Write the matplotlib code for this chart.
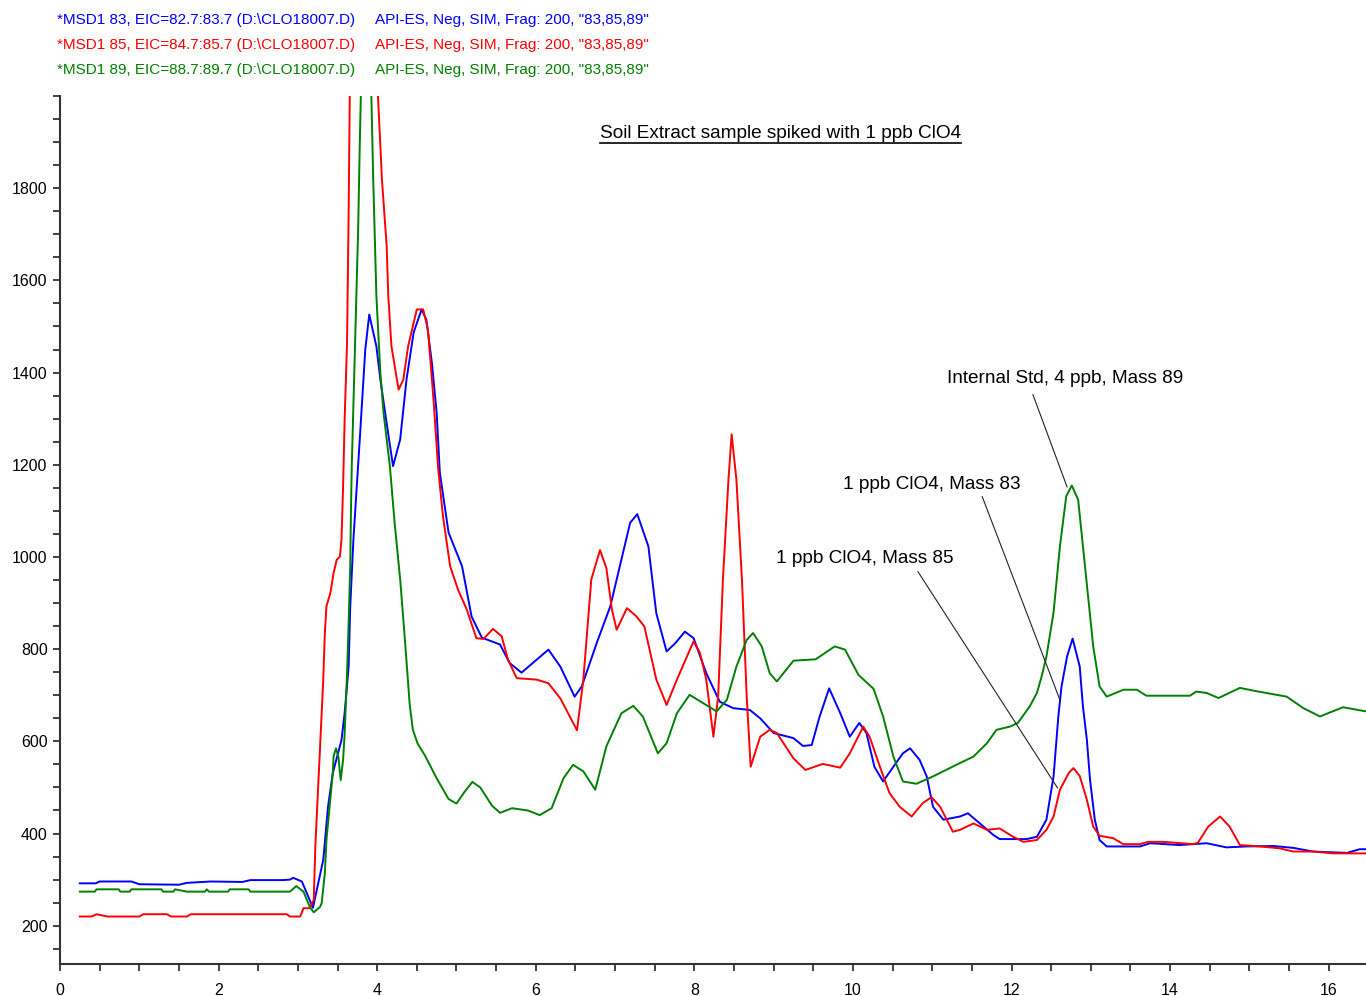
import matplotlib
matplotlib.use("Agg")
import matplotlib.pyplot as plt
from matplotlib.lines import Line2D
from matplotlib.transforms import IdentityTransform
import numpy as np

plt.rcParams['font.family'] = ['Liberation Sans', 'DejaVu Sans']

# Extracted ion chromatograms (retention time in min, abundance)
t_83 = [0.25, 0.45, 0.5, 0.9, 1.0, 1.5, 1.6, 1.9, 2.3, 2.4, 2.8, 2.9, 2.94, 3.05,
        3.19, 3.32, 3.38, 3.44, 3.55, 3.59, 3.64, 3.66, 3.70, 3.74, 3.78, 3.85,
        3.90, 3.99, 4.04, 4.10, 4.20, 4.29, 4.37, 4.46, 4.56, 4.62, 4.69, 4.75,
        4.79, 4.90, 5.07, 5.19, 5.32, 5.55, 5.67, 5.82, 6.01, 6.16, 6.31, 6.49,
        6.58, 6.77, 6.94, 7.06, 7.19, 7.28, 7.42, 7.52, 7.65, 7.76, 7.88, 7.99,
        8.15, 8.32, 8.49, 8.70, 8.83, 9.00, 9.25, 9.37, 9.48, 9.58, 9.70, 9.84,
        9.96, 10.08, 10.17, 10.27, 10.38, 10.51, 10.63, 10.72, 10.84, 10.93,
        11.01, 11.14, 11.35, 11.45, 11.60, 11.77, 11.85, 12.19, 12.32, 12.44,
        12.53, 12.59, 12.63, 12.70, 12.77, 12.86, 12.90, 12.95, 12.99, 13.05,
        13.11, 13.20, 13.62, 13.75, 14.12, 14.46, 14.71, 14.96, 15.30, 15.55,
        15.80, 16.23, 16.39, 16.47]
i_83 = [292, 292, 296, 296, 290, 289, 293, 296, 295, 299, 299, 300, 304, 296,
        239, 343, 458, 531, 603, 662, 762, 892, 1037, 1146, 1254, 1450,
        1526, 1457, 1385, 1313, 1197, 1255, 1385, 1487, 1537, 1515, 1421, 1313,
        1183, 1053, 980, 871, 825, 810, 770, 749, 777, 799, 762, 697,
        719, 814, 893, 980, 1074, 1093, 1023, 878, 795, 813, 838, 824,
        748, 686, 672, 668, 650, 618, 607, 590, 592, 654, 715, 661,
        610, 640, 618, 545, 513, 545, 574, 585, 560, 524,
        458, 430, 437, 444, 422, 397, 388, 388, 393, 430,
        524, 654, 719, 784, 823, 762, 676, 603, 516, 430,
        386, 372, 372, 379, 375, 379, 370, 372, 373, 369,
        361, 358, 366, 366]

t_85 = [0.25, 0.40, 0.46, 0.60, 1.0, 1.05, 1.35, 1.40, 1.60, 1.65, 2.86, 2.90,
        3.03, 3.07, 3.15, 3.20, 3.22, 3.24, 3.26, 3.28, 3.30, 3.32, 3.34, 3.36,
        3.41, 3.45, 3.49, 3.53, 3.55, 3.57, 3.59, 3.62, 3.64, 3.66, 3.80, 3.98,
        4.01, 4.06, 4.12, 4.14, 4.18, 4.27, 4.33, 4.39, 4.50, 4.58, 4.64, 4.71,
        4.77, 4.83, 4.92, 5.02, 5.13, 5.25, 5.34, 5.46, 5.57, 5.65, 5.76, 6.01,
        6.16, 6.31, 6.45, 6.52, 6.60, 6.70, 6.81, 6.89, 6.96, 7.02, 7.15, 7.27,
        7.37, 7.52, 7.65, 7.78, 7.99, 8.07, 8.15, 8.24, 8.30, 8.36, 8.43, 8.47,
        8.53, 8.60, 8.66, 8.71, 8.83, 8.95, 9.04, 9.25, 9.40, 9.62, 9.84, 9.96,
        10.13, 10.21, 10.34, 10.46, 10.59, 10.74, 10.88, 10.99, 11.10, 11.26,
        11.35, 11.52, 11.69, 11.85, 12.02, 12.15, 12.32, 12.44, 12.53, 12.61,
        12.72, 12.78, 12.86, 12.95, 13.03, 13.11, 13.28, 13.41, 13.62, 13.72,
        13.91, 14.29, 14.35, 14.48, 14.63, 14.75, 14.88, 15.13, 15.38, 15.55,
        15.80, 16.06, 16.47]
i_85 = [220, 220, 225, 220, 220, 225, 225, 220, 220, 225, 225, 220,
        220, 238, 238, 256, 372, 444, 516, 589, 661, 734, 835, 893,
        922, 965, 994, 1001, 1038, 1153, 1300, 1465, 1748, 2100, 2600, 2100,
        2000, 1819, 1674, 1566, 1457, 1363, 1385, 1457, 1537, 1537, 1494, 1342,
        1190, 1088, 980, 929, 886, 824, 822, 844, 828, 777, 737, 734,
        726, 693, 647, 624, 734, 951, 1015, 976, 886, 842, 889, 871,
        849, 734, 679, 734, 817, 792, 734, 610, 697, 951, 1168, 1266,
        1168, 951, 697, 545, 610, 625, 618, 563, 538, 551, 543, 574,
        632, 610, 545, 488, 458, 437, 466, 479, 458, 404,
        408, 422, 408, 411, 393, 382, 386, 408, 437, 495,
        531, 542, 525, 473, 415, 395, 390, 377, 377, 382,
        382, 377, 380, 415, 437, 415, 375, 372, 368, 361,
        361, 357, 357]

t_89 = [0.25, 0.44, 0.46, 0.74, 0.76, 0.88, 0.9, 1.28, 1.3, 1.43, 1.45, 1.6,
        1.83, 1.85, 1.88, 2.12, 2.14, 2.38, 2.40, 2.90, 2.98, 3.07, 3.15, 3.20,
        3.28, 3.30, 3.34, 3.36, 3.40, 3.44, 3.45, 3.48, 3.51, 3.54, 3.57, 3.59,
        3.62, 3.64, 3.66, 3.67, 3.68, 3.72, 3.76, 3.78, 3.80, 3.86, 3.92, 3.95,
        3.99, 4.04, 4.08, 4.16, 4.22, 4.29, 4.35, 4.41, 4.45, 4.51, 4.6, 4.75,
        4.9, 5.0, 5.1, 5.2, 5.3, 5.45, 5.55, 5.7, 5.9, 6.05, 6.2, 6.35, 6.47,
        6.6, 6.75, 6.89, 7.08, 7.23, 7.35, 7.54, 7.65, 7.78, 7.94, 8.11, 8.28,
        8.41, 8.53, 8.66, 8.74, 8.85, 8.95, 9.04, 9.25, 9.53, 9.77, 9.90, 10.07,
        10.26, 10.38, 10.51, 10.63, 10.80, 11.01, 11.35, 11.52, 11.69, 11.81,
        11.98, 12.08, 12.23, 12.32, 12.38, 12.44, 12.53, 12.61, 12.69, 12.76,
        12.84, 12.90, 12.97, 13.03, 13.11, 13.20, 13.41, 13.58, 13.70, 14.25,
        14.33, 14.46, 14.61, 14.88, 15.05, 15.47, 15.68, 15.89, 16.18, 16.47]
i_89 = [274, 274, 279, 279, 274, 274, 279, 279, 274, 274, 279, 274,
        274, 279, 274, 274, 279, 279, 274, 274, 286, 274, 241, 229,
        241, 249, 314, 386, 458, 531, 567, 585, 567, 516, 560, 618,
        748, 857, 980, 1110, 1200, 1457, 1711, 1892, 2050, 2300, 2050, 1819,
        1566, 1400, 1313, 1197, 1074, 951, 820, 680, 625, 595, 570, 520,
        475, 465, 490, 512, 500, 460, 445, 455, 450, 440, 455, 520, 549,
        535, 495, 589, 661, 677, 654, 574, 596, 661, 701, 683, 665,
        690, 762, 820, 835, 806, 748, 730, 775, 778, 806, 799, 744,
        714, 654, 567, 513, 508, 524, 553, 567, 596, 625,
        632, 640, 676, 705, 741, 784, 880, 1023, 1132, 1155,
        1124, 1023, 907, 806, 719, 697, 712, 712, 699, 699,
        708, 705, 694, 716, 710, 697, 672, 654, 674, 665]

header_left = ['*MSD1 83, EIC=82.7:83.7 (D:\\CLO18007.D)',
               '*MSD1 85, EIC=84.7:85.7 (D:\\CLO18007.D)',
               '*MSD1 89, EIC=88.7:89.7 (D:\\CLO18007.D)']
header_right = 'API-ES, Neg, SIM, Frag: 200, "83,85,89"'
colors = ['#0000ff', '#ff0000', '#008000']

fig = plt.figure(figsize=(13.66, 9.96), dpi=100)
ax = fig.add_axes([60 / 1366, 32 / 996, 1306 / 1366, 868 / 996])

for t, y, c in zip([t_83, t_85, t_89], [i_83, i_85, i_89], colors):
    ax.plot(t, y, color=c, lw=1.4)

ax.set_xlim(0, 16.47)
ax.set_ylim(117, 2000)
ax.set_xticks(np.arange(0, 17, 2))
ax.set_xticks(np.arange(0, 16.5, 0.5), minor=True)
ax.set_yticks(np.arange(200, 1801, 200))
ax.set_yticks(np.arange(150, 2001, 50), minor=True)

for s in ['top', 'right']:
    ax.spines[s].set_visible(False)
for s in ['left', 'bottom']:
    ax.spines[s].set_linewidth(1.5)
    ax.spines[s].set_color('#333333')
ax.tick_params(which='both', length=5, width=1.3, color='#333333', labelsize=11.5)
ax.tick_params(axis='x', pad=9)
ax.tick_params(axis='y', pad=4)

# header lines above the plot
for k, (txt, c) in enumerate(zip(header_left, colors)):
    yy = 1 - (20 + 25 * k) / 996
    fig.text(57 / 1366, yy, txt, color=c, fontsize=11, va='center')
    fig.text(375 / 1366, yy, header_right, color=c, fontsize=11, va='center')

title = ax.text(9.09, 1919, 'Soil Extract sample spiked with 1 ppb ClO4',
                ha='center', va='center', fontsize=13.7)

# labelled peaks with leader lines
notes = [('Internal Std, 4 ppb, Mass 89', (12.70, 1152), (12.67, 1387), (12.27, 1352)),
         ('1 ppb ClO4, Mass 83', (12.61, 690), (11.0, 1157), (11.63, 1131)),
         ('1 ppb ClO4, Mass 85', (12.58, 499), (10.15, 996), (10.82, 968))]
for label, tip, pos, start in notes:
    ax.text(pos[0], pos[1], label, ha='center', va='center', fontsize=13.7)
    ax.plot([start[0], tip[0]], [start[1], tip[1]], color='#222222', lw=0.8)

fig.canvas.draw()
bb = title.get_window_extent()
fig.add_artist(Line2D([bb.x0, bb.x1], [bb.y0 - 1, bb.y0 - 1], color='black', lw=1.2,
                      transform=IdentityTransform()))

fig.savefig('out.png', dpi=100)
